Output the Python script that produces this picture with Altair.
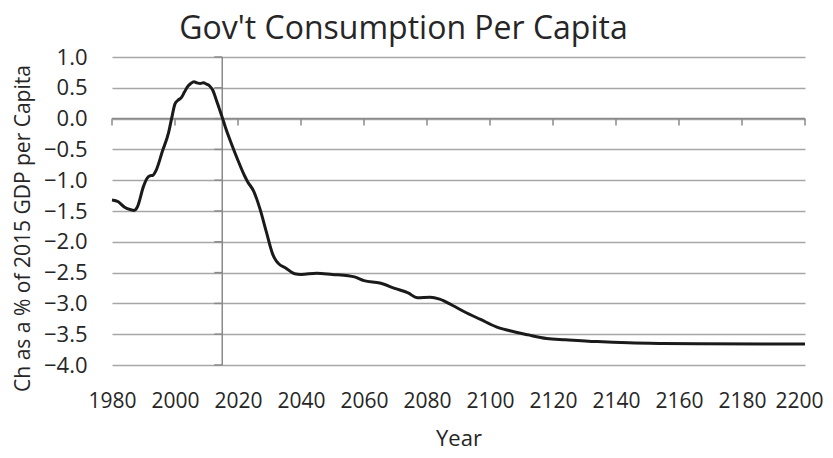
import altair as alt
import pandas as pd

years = [1980, 1982, 1984, 1986, 1987, 1988, 1990, 1991, 1992, 1993, 1994, 1996,
         1998, 1999, 2000, 2001, 2002, 2003, 2004, 2005, 2006, 2007, 2008, 2009,
         2010, 2011, 2012, 2013, 2014, 2015, 2016, 2018, 2020, 2022, 2023, 2025,
         2027, 2029, 2031, 2032, 2033, 2035, 2038, 2040, 2045, 2050, 2055, 2057,
         2060, 2065, 2070, 2074, 2077, 2081, 2084, 2088, 2092, 2097, 2102, 2106,
         2112, 2118, 2124, 2134, 2144, 2155, 2166, 2200]
values = [-1.32, -1.35, -1.44, -1.48, -1.49, -1.44, -1.10, -0.98, -0.93, -0.92, -0.84, -0.53,
          -0.22, 0.02, 0.24, 0.30, 0.34, 0.43, 0.52, 0.57, 0.60, 0.58, 0.57, 0.58,
          0.56, 0.53, 0.46, 0.32, 0.17, 0.02, -0.14, -0.42, -0.68, -0.92, -1.02, -1.18,
          -1.47, -1.84, -2.20, -2.30, -2.36, -2.42, -2.52, -2.53, -2.51, -2.53, -2.55, -2.57,
          -2.63, -2.67, -2.76, -2.83, -2.91, -2.90, -2.93, -3.03, -3.14, -3.26, -3.38, -3.44,
          -3.51, -3.57, -3.59, -3.62, -3.64, -3.65, -3.655, -3.66]

x_ticks = [1980, 2000, 2020, 2040, 2060, 2080, 2100, 2120, 2140, 2160, 2180, 2200]
y_ticks = [1.0, 0.5, 0.0, -0.5, -1.0, -1.5, -2.0, -2.5, -3.0, -3.5, -4.0]
axis_year = 2015
y_min, y_max = -4.0, 1.0

FONT = "Open Sans"
TEXT = "#262626"
GRID = "#a6a6a6"
AXIS = "#8a8a8a"

df = pd.DataFrame({"Year": years, "Value": values})
xt = pd.DataFrame({"Year": x_ticks, "Value": [0.0] * len(x_ticks)})
yt = pd.DataFrame({"Value": y_ticks, "Year": [axis_year] * len(y_ticks)})
vl = pd.DataFrame({"Year": [axis_year], "Value": [y_max], "Value2": [y_min]})
hl = pd.DataFrame({"Value": [0.0]})

xscale = alt.Scale(domain=[1980, 2200], nice=False, zero=False)
yscale = alt.Scale(domain=[-4, 1], nice=False, zero=False)

xaxis = alt.Axis(values=x_ticks, format="d", grid=False, ticks=False, domain=False,
                 labelFlush=False, labelOverlap=False,
                 labelOffset={"condition": {"test": "datum.value == 2200", "value": -6}, "value": 0},
                 labelFont=FONT, labelFontSize=21, labelColor=TEXT, labelPadding=25,
                 title="Year", titleFont=FONT, titleFontSize=22, titleFontWeight="normal",
                 titleColor=TEXT, titlePadding=17)
yaxis = alt.Axis(values=y_ticks, format=".1f", grid=True, gridColor=GRID, gridWidth=1.3,
                 ticks=False, domain=False, labelFlush=False, labelOverlap=False,
                 labelFont=FONT, labelFontSize=22,
                 labelColor=TEXT, labelPadding=25,
                 title="Ch as a % of 2015 GDP per Capita", titleFont=FONT,
                 titleFontSize=21, titleFontWeight="normal", titleColor=TEXT,
                 titlePadding=10, titleY=171)

X = alt.X("Year:Q", scale=xscale, axis=xaxis)
Y = alt.Y("Value:Q", scale=yscale, axis=yaxis)

line = alt.Chart(df).mark_line(color="#1a1a1a", strokeWidth=3, interpolate="monotone").encode(
    x=X, y=Y,
)
hline = alt.Chart(hl).mark_rule(color=AXIS, strokeWidth=1.5).encode(y=Y)
xtick_marks = alt.Chart(xt).mark_rule(color=AXIS, strokeWidth=1.5, y2Offset=7).encode(
    x=X, y=Y, y2="Value:Q",
)
vline = alt.Chart(vl).mark_rule(color=AXIS, strokeWidth=1.5).encode(
    x=X, y=Y, y2="Value2:Q",
)
ytick_marks = alt.Chart(yt).mark_rule(color=AXIS, strokeWidth=1.5, x2Offset=-8).encode(
    x=X, y=Y, x2="Year:Q",
)

chart = alt.layer(hline, xtick_marks, vline, ytick_marks, line).properties(
    width=693, height=308,
    autosize=alt.AutoSizeParams(type="none"),
    padding={"left": 104, "top": 49, "right": 20, "bottom": 85},
    background="white",
    title=alt.TitleParams("Gov't Consumption Per Capita", font=FONT, fontSize=32,
                          fontWeight="normal", color=TEXT, anchor="middle", dx=-55, offset=0),
).configure_view(stroke=None)

chart.save("out.html", embed_options={"renderer": "svg", "actions": False})
